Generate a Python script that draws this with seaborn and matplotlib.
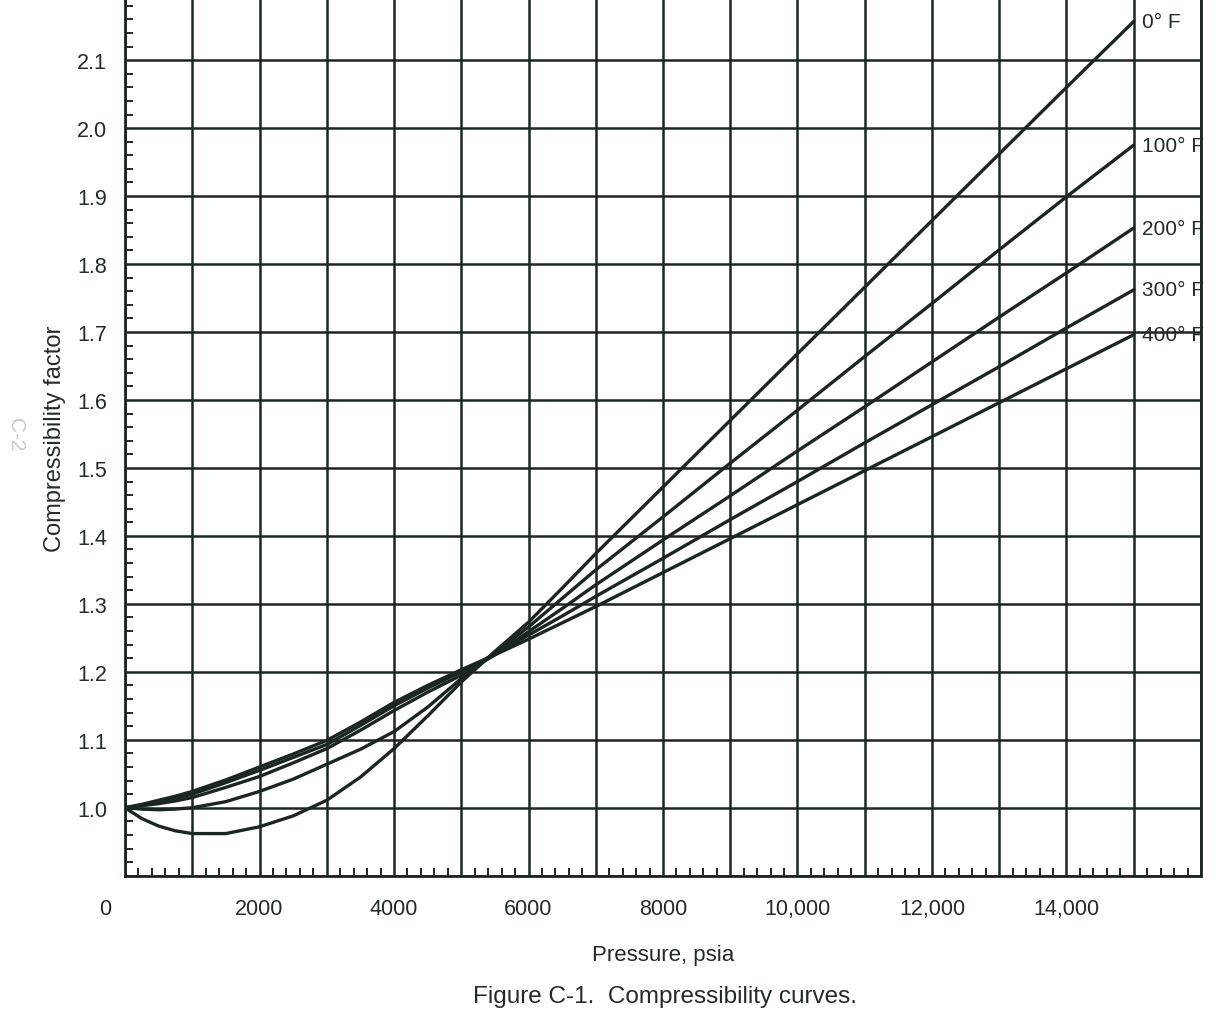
import matplotlib
matplotlib.use("Agg")
import matplotlib.pyplot as plt
from matplotlib.ticker import AutoMinorLocator
from matplotlib.transforms import ScaledTranslation
import pandas as pd
import seaborn as sns

# values (pressure in psia, Z factor)
pressure = [0, 250, 500, 750, 1000, 1500, 2000, 2500, 3000, 3500, 4000, 4500,
            5000, 5500, 6000, 6500, 7000, 8000, 9000, 10000, 11000, 12000,
            13000, 14000, 15000]
z_0f = [1.000, 0.984, 0.973, 0.966, 0.962, 0.962, 0.972, 0.988, 1.011, 1.045,
        1.087, 1.135, 1.185, 1.230, 1.273, 1.323, 1.374, 1.472, 1.570, 1.668,
        1.766, 1.864, 1.962, 2.060, 2.157]
z_100f = [1.000, 0.998, 0.997, 0.998, 1.000, 1.009, 1.024, 1.042, 1.064, 1.086,
          1.112, 1.148, 1.190, 1.228, 1.266, 1.308, 1.350, 1.428, 1.507, 1.585,
          1.664, 1.742, 1.821, 1.899, 1.975]
z_200f = [1.000, 1.003, 1.006, 1.010, 1.015, 1.030, 1.046, 1.066, 1.087, 1.114,
          1.143, 1.170, 1.195, 1.225, 1.259, 1.293, 1.328, 1.394, 1.459, 1.525,
          1.590, 1.656, 1.722, 1.787, 1.853]
z_300f = [1.000, 1.004, 1.009, 1.014, 1.020, 1.037, 1.055, 1.074, 1.093, 1.121,
          1.150, 1.176, 1.200, 1.226, 1.254, 1.282, 1.311, 1.367, 1.424, 1.480,
          1.537, 1.593, 1.649, 1.706, 1.762]
z_400f = [1.000, 1.005, 1.011, 1.017, 1.024, 1.041, 1.060, 1.079, 1.099, 1.126,
          1.155, 1.180, 1.203, 1.225, 1.248, 1.272, 1.296, 1.346, 1.396, 1.446,
          1.496, 1.546, 1.596, 1.646, 1.696]

temps = ["0° F", "100° F", "200° F", "300° F", "400° F"]
curves = [z_0f, z_100f, z_200f, z_300f, z_400f]

x_ticks = list(range(0, 16001, 1000))
x_labels = ["0", "", "2000", "", "4000", "", "6000", "", "8000", "",
            "10,000", "", "12,000", "", "14,000", "", ""]
y_ticks = [0.9, 1.0, 1.1, 1.2, 1.3, 1.4, 1.5, 1.6, 1.7, 1.8, 1.9, 2.0, 2.1]
y_labels = [""] + [f"{v:.1f}" for v in y_ticks[1:]]

df = pd.concat(
    [pd.DataFrame({"Pressure": pressure, "Z": z, "Temp": t}) for t, z in zip(temps, curves)],
    ignore_index=True,
)

ink = "#1c2621"
txt = "#222c27"

sns.set_style("white")
plt.rcParams["font.family"] = ["Liberation Sans", "DejaVu Sans"]

fig = plt.figure(figsize=(12.2, 10.2), dpi=100)
ax = fig.add_axes([0.1025, 0.1405, 0.8819, 0.8595])

sns.lineplot(data=df, x="Pressure", y="Z", hue="Temp", palette=[ink] * 5,
             estimator=None, sort=True, lw=2.4, legend=False, ax=ax, zorder=3)

ax.set_xlim(0, 16000)
ax.set_ylim(0.9, 2.19)
ax.set_xticks(x_ticks)
ax.set_xticklabels(x_labels)
ax.set_yticks(y_ticks)
ax.set_yticklabels(y_labels)
ax.xaxis.set_minor_locator(AutoMinorLocator(5))
ax.yaxis.set_minor_locator(AutoMinorLocator(5))
ax.tick_params(bottom=True, left=True, which="both")
ax.tick_params(which="major", length=0, labelsize=15.5, labelcolor=txt)
ax.tick_params(axis="x", which="major", pad=16)
ax.tick_params(axis="y", which="major", pad=13)
ax.tick_params(which="minor", direction="in", length=5.5, width=1.4, color=ink)
ax.grid(True, which="major", color=ink, lw=1.8)
ax.set_axisbelow(True)

for side in ["left", "bottom", "right"]:
    ax.spines[side].set_color(ink)
    ax.spines[side].set_linewidth(2.0)
ax.spines["top"].set_visible(False)

# the "0" label sits a little left of the axis in the original
zero = ax.get_xticklabels()[0]
zero.set_transform(zero.get_transform() + ScaledTranslation(-0.2, 0, fig.dpi_scale_trans))

for t, z in zip(temps, curves):
    ax.text(15130, z[-1], t, fontsize=15, color=txt, va="center", ha="left",
            clip_on=False, zorder=4)

ax.set_xlabel("Pressure, psia", fontsize=16, color=txt, labelpad=18)
ax.set_ylabel("Compressibility factor", fontsize=17, color=txt, labelpad=8)

fig.text(0.545, 1 - 997 / 1020, "Figure C-1.  Compressibility curves.",
         fontsize=17.5, color=txt, ha="center", va="center")
fig.text(0.013, 1 - 435 / 1020, "C-2", fontsize=15, color="#c3cbc7",
         rotation=270, ha="center", va="center")

fig.savefig("out.png", dpi=100, facecolor="white")
